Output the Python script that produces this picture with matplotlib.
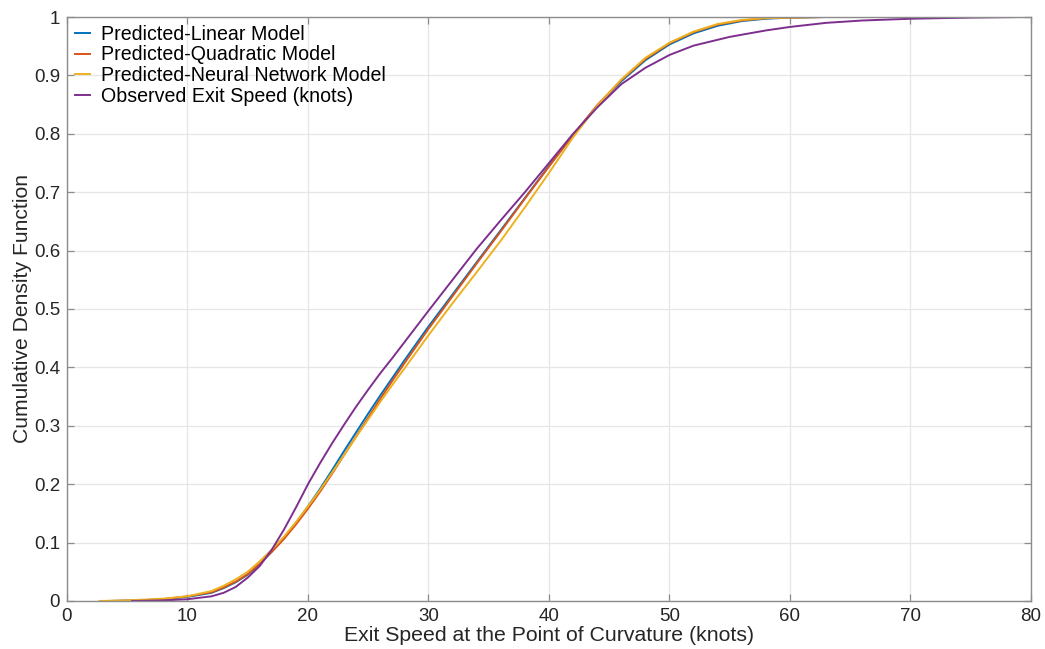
import matplotlib
matplotlib.use("Agg")
import matplotlib.pyplot as plt
from matplotlib.ticker import FixedLocator, FuncFormatter

plt.rcParams['font.family'] = ['Liberation Sans', 'DejaVu Sans']

# Empirical CDF curves of exit speed (knots)
linear_x = [3.5, 6, 8, 10, 12, 13, 14, 15, 16, 17, 18, 19, 20, 21, 22, 23, 24, 25,
            26, 27, 28, 30, 32, 34, 36, 38, 40, 42, 44, 46, 48, 50, 52, 54, 56, 58,
            60, 63, 66.5]
linear_y = [0, 0.001, 0.003, 0.007, 0.014, 0.022, 0.032, 0.045, 0.063, 0.085, 0.108,
            0.134, 0.162, 0.192, 0.224, 0.257, 0.289, 0.321, 0.352, 0.382, 0.412,
            0.47, 0.525, 0.58, 0.635, 0.69, 0.745, 0.798, 0.848, 0.89, 0.926, 0.953,
            0.972, 0.985, 0.993, 0.997, 0.999, 1.0, 1.0]

quadratic_x = [3.5, 6, 8, 10, 12, 13, 14, 15, 16, 17, 18, 19, 20, 21, 22, 23, 24, 25,
               26, 27, 28, 30, 32, 34, 36, 38, 40, 42, 44, 46, 48, 50, 52, 54, 56, 58,
               60, 62.9]
quadratic_y = [0, 0.001, 0.003, 0.008, 0.015, 0.023, 0.033, 0.046, 0.064, 0.084, 0.106,
               0.131, 0.158, 0.187, 0.218, 0.25, 0.282, 0.314, 0.346, 0.377, 0.407,
               0.466, 0.522, 0.578, 0.633, 0.689, 0.744, 0.798, 0.849, 0.892, 0.928,
               0.955, 0.974, 0.987, 0.994, 0.998, 0.999, 1.0]

neural_x = [2.7, 5, 8, 10, 12, 13, 14, 15, 16, 17, 18, 19, 20, 21, 22, 23, 24, 25,
            26, 27, 28, 30, 32, 34, 36, 38, 40, 42, 44, 46, 48, 50, 52, 54, 56, 58,
            60, 62.9]
neural_y = [0, 0.001, 0.004, 0.008, 0.017, 0.026, 0.037, 0.05, 0.068, 0.088, 0.11,
            0.135, 0.162, 0.19, 0.22, 0.25, 0.281, 0.311, 0.341, 0.37, 0.398, 0.455,
            0.51, 0.563, 0.617, 0.674, 0.733, 0.794, 0.848, 0.893, 0.93, 0.956,
            0.975, 0.988, 0.995, 0.998, 0.999, 1.0]

observed_x = [5.4, 8, 10, 12, 13, 14, 15, 16, 17, 18, 19, 20, 21, 22, 23, 24, 25, 26,
              27, 28, 30, 32, 34, 36, 38, 40, 42, 44, 46, 48, 50, 52, 55, 58, 60, 63,
              66, 70, 75, 79.2]
observed_y = [0, 0.001, 0.003, 0.008, 0.014, 0.024, 0.04, 0.06, 0.088, 0.122, 0.16,
              0.2, 0.236, 0.27, 0.302, 0.333, 0.362, 0.39, 0.416, 0.443, 0.497, 0.55,
              0.603, 0.652, 0.7, 0.75, 0.8, 0.845, 0.885, 0.913, 0.935, 0.951, 0.966,
              0.977, 0.983, 0.99, 0.994, 0.997, 0.999, 1.0]

series = [
    ("Predicted-Linear Model", linear_x, linear_y, "#0072BD"),
    ("Predicted-Quadratic Model", quadratic_x, quadratic_y, "#D95319"),
    ("Predicted-Neural Network Model", neural_x, neural_y, "#EDB120"),
    ("Observed Exit Speed (knots)", observed_x, observed_y, "#7E2F8E"),
]

x_ticks = [0, 10, 20, 30, 40, 50, 60, 70, 80]
y_ticks = [0, 0.1, 0.2, 0.3, 0.4, 0.5, 0.6, 0.7, 0.8, 0.9, 1.0]

fig = plt.figure(figsize=(10.45, 6.49), dpi=100)
ax = fig.add_axes([0.0641, 0.074, 0.9225, 0.8998])

for label, xs, ys, color in series:
    ax.plot(xs, ys, color=color, lw=1.4, label=label)

ax.set_xlim(0, 80)
ax.set_ylim(0, 1)
ax.xaxis.set_major_locator(FixedLocator(x_ticks))
ax.yaxis.set_major_locator(FixedLocator(y_ticks))
ax.yaxis.set_major_formatter(FuncFormatter(lambda v, p: f"{v:g}"))

ax.grid(True, color="#e6e6e6", lw=0.9)
ax.set_axisbelow(True)
for sp in ax.spines.values():
    sp.set_color("#8c8c8c")
    sp.set_linewidth(1.0)
ax.tick_params(direction="in", length=5, width=0.9, color="#8c8c8c",
               top=True, right=True, labelsize=13.5, labelcolor="#262626", pad=5)

ax.set_xlabel("Exit Speed at the Point of Curvature (knots)", fontsize=15.3,
              color="#262626", labelpad=1)
ax.set_ylabel("Cumulative Density Function", fontsize=15.2, color="#262626",
              labelpad=1)

ax.legend(loc="upper left", frameon=False, fontsize=14.1, handlelength=0.8,
          handletextpad=0.55, labelspacing=0.08, borderaxespad=0.15,
          borderpad=0.25)

fig.savefig("out.png", dpi=100, facecolor="white")
